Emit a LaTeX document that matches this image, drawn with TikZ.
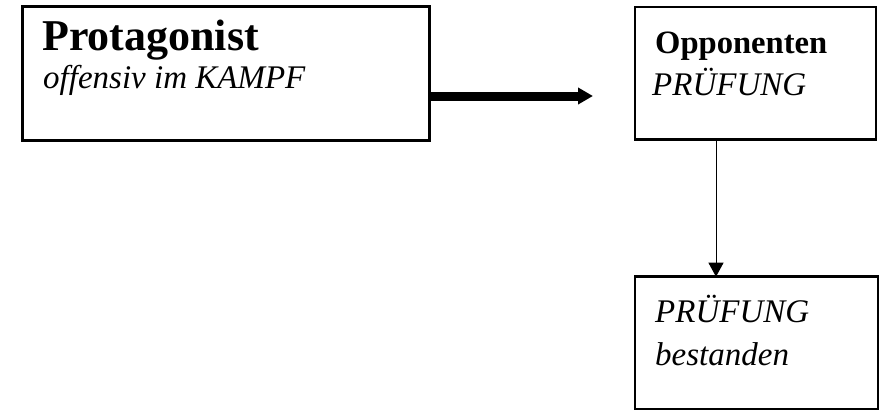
\documentclass[tikz,border=0pt]{standalone}
\usepackage{fontspec}
\setmainfont{Liberation Serif}
\usetikzlibrary{arrows.meta, positioning}

\begin{document}
\begin{tikzpicture}[x=1pt, y=-1pt, line join = round,
    kasten/.style={draw, line width=2.8pt, line join=miter, inner sep=0pt, outer sep=0pt, anchor=north west},
    zeile/.style={anchor=base west, inner sep=0pt}]
    \useasboundingbox (0,0) rectangle (879,410);
    \node[kasten, minimum width=407pt, minimum height=134pt] (protag) at (22.5,6.5) {};
    \node[kasten, minimum width=241pt, minimum height=132.5pt] (gegner) at (635,7) {};
    \node[kasten, minimum width=243.5pt, minimum height=132.8pt] (ziel) at (635,276.7) {};
    
    \node[zeile, font=\fontsize{44}{48}\selectfont\bfseries] (titel) at (42,50.7) {Protagonist};
    \node[zeile, font=\fontsize{33}{36}\selectfont\itshape] (kampf) at (43,88) {offensiv im KAMPF};
    \node[zeile, font=\fontsize{32.6}{36}\selectfont\bfseries] (opp) at (655,53) {Opponenten};
    \node[zeile, font=\fontsize{33}{36}\selectfont\itshape] (pruefung) at (652,95) {PRÜFUNG};
    \node[zeile, font=\fontsize{33}{36}\selectfont\itshape] (pruefungb) at (655,322) {PRÜFUNG};
    \node[zeile, font=\fontsize{33}{36}\selectfont\itshape] (bestanden) at (655,365) {bestanden};
    
    % dicker Pfeil nach rechts
    \coordinate (spitze) at (593,96);
    \draw[line width=9pt, -{Triangle[length=15pt, width=16pt]}] (protag.east |- spitze) -- (spitze);
    \draw[line width=1pt, -{Triangle[length=14pt, width=15pt]}] ([xshift=81pt]gegner.south west) -- ([xshift=81pt]ziel.north west);
\end{tikzpicture}
\end{document}
